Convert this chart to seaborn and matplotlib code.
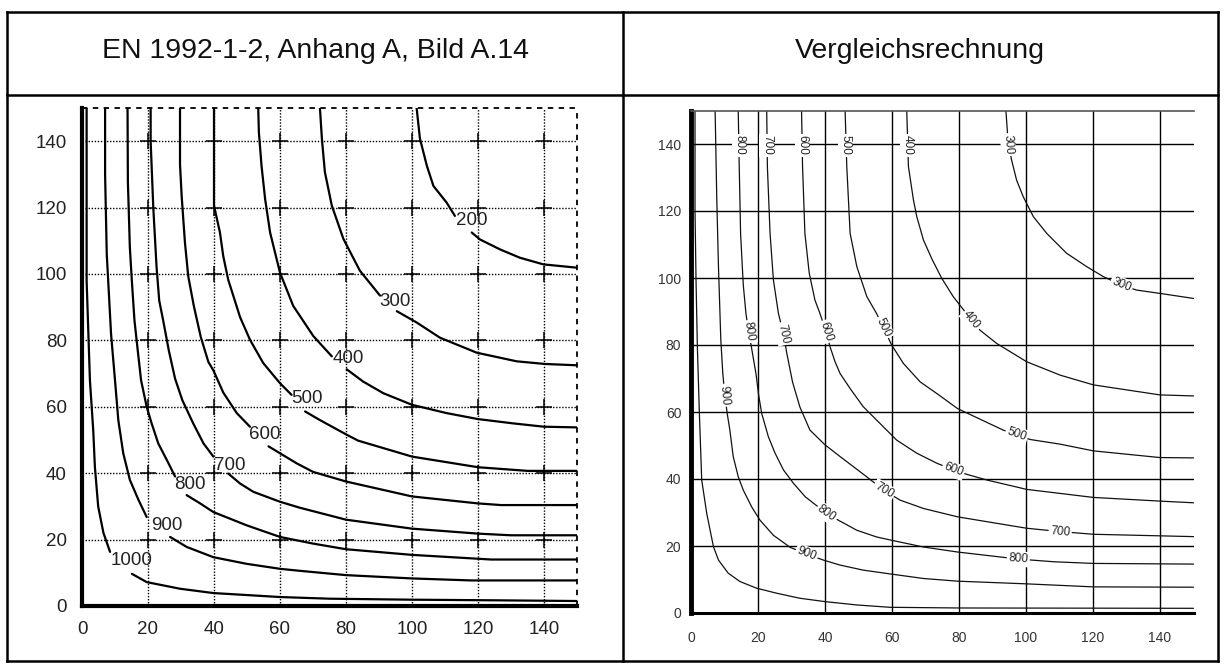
import matplotlib
matplotlib.use("Agg")
import matplotlib.pyplot as plt
import pandas as pd
import seaborn as sns
from matplotlib.lines import Line2D

# ---------------- data: left panel (EN 1992-1-2, Bild A.14) ----------------
# each isotherm is split into the part above and the part right of its label
left_levels = ["200", "300", "400", "500", "600", "700", "800", "900", "1000"]
left_upper = {
    "200": [(101.4, 150), (102.4, 140.8), (104.5, 132.6), (106.5, 126.5), (110.5, 121.5), (113.0, 117.5)],
    "300": [(72.1, 150), (72.7, 140.7), (73.6, 130.7), (75.7, 120.6), (79.2, 110.6), (84.2, 101.0), (90.3, 93.5)],
    "400": [(53.4, 150), (53.6, 142.7), (54.4, 132.6), (55.5, 122.5), (57.0, 112.5), (60.0, 100.4), (64.0, 90.4),
            (70.1, 81.3), (75.7, 75.2)],
    "500": [(40.0, 150), (40.0, 120.6), (41.8, 112.5), (42.8, 105.4), (44.3, 98.3), (47.9, 87.0), (50.9, 80.2),
            (54.9, 73.2), (60.0, 67.1), (63.5, 63.6)],
    "600": [(29.7, 150), (29.7, 133.0), (30.2, 123.5), (31.2, 109.4), (32.2, 99.3), (33.9, 90.3), (36.0, 81.0),
            (38.3, 73.5), (39.8, 71.0), (42.8, 64.3), (46.9, 58.1), (50.9, 54.0)],
    "700": [(20.8, 150), (20.8, 140.0), (21.6, 120.0), (22.6, 102.0), (23.4, 92.0), (24.6, 86.0), (26.3, 77.0),
            (28.2, 68.5), (30.4, 62.0), (33.7, 55.0), (36.8, 49.0), (39.8, 45.0)],
    "800": [(13.8, 150), (13.9, 128.0), (14.5, 108.0), (15.1, 98.0), (15.9, 86.0), (17.0, 76.0), (17.9, 68.0),
            (19.6, 60.0), (21.1, 55.0), (23.1, 49.0), (26.2, 43.0), (28.2, 39.0)],
    "900": [(7.0, 150), (7.0, 130.0), (7.5, 106.0), (8.1, 95.0), (8.8, 82.0), (10.0, 68.0), (11.0, 56.0),
            (12.5, 46.0), (14.5, 38.0), (17.1, 32.0), (19.6, 26.8)],
    "1000": [(1.4, 150), (1.4, 98.0), (2.4, 68.0), (3.4, 53.0), (3.9, 42.0), (4.9, 30.0), (6.5, 22.0), (8.5, 16.3)],
}
left_lower = {
    "200": [(118.1, 112.5), (120.6, 110.4), (126.7, 107.4), (132.7, 104.9), (139.8, 102.9), (150, 101.9)],
    "300": [(95.4, 88.8), (101.4, 85.4), (108.5, 80.8), (119.6, 76.3), (131.7, 73.7), (140.3, 72.9), (150, 72.5)],
    "400": [(80.2, 71.3), (85.2, 67.6), (91.3, 64.1), (100.0, 60.6), (110.5, 58.1), (120.0, 56.3), (130.7, 55.0),
            (140.0, 54.0), (150, 53.8)],
    "500": [(67.6, 58.6), (72.1, 56.0), (80.2, 51.6), (83.7, 49.8), (100.0, 45.0), (120.0, 41.8), (135.0, 40.7),
            (150, 40.7)],
    "600": [(56.5, 48.1), (60.0, 46.0), (65.0, 43.0), (70.0, 40.4), (80.0, 37.5), (100.0, 33.0), (120.0, 30.9),
            (127.0, 30.4), (150, 30.4)],
    "700": [(44.3, 39.9), (47.9, 36.9), (51.9, 34.4), (60.0, 31.4), (66.0, 29.6), (80.0, 26.0), (100.0, 23.3),
            (120.0, 21.8), (130.0, 21.3), (150, 21.3)],
    "800": [(31.7, 33.4), (35.8, 30.9), (39.8, 28.3), (49.9, 24.3), (60.0, 20.8), (70.0, 18.8), (80.0, 17.1),
            (100.0, 15.4), (124.0, 14.0), (150, 14.0)],
    "900": [(26.7, 20.8), (31.7, 17.8), (39.8, 14.7), (49.9, 12.7), (60.0, 11.2), (66.0, 10.6), (80.0, 9.3),
            (100.0, 8.3), (118.0, 7.7), (150, 7.7)],
    "1000": [(15.1, 9.7), (19.6, 7.2), (29.7, 5.2), (39.8, 3.9), (60.0, 2.7), (75.0, 2.2), (100.0, 1.9),
             (127.0, 1.7), (150, 1.5)],
}
left_label_x = [118.1, 94.8, 80.6, 68.1, 55.5, 44.8, 32.7, 25.7, 15.1]
left_label_y = [116.0, 91.8, 74.4, 62.4, 51.8, 42.4, 36.7, 24.3, 13.7]

# ---------------- data: right panel (Vergleichsrechnung) ----------------
right_levels = ["300", "400", "500", "600", "700", "800", "900", "1000"]
right_curves = {
    "300": [(94.0, 150), (94.7, 140.0), (95.7, 135.2), (97.2, 129.2), (99.2, 124.2), (102.2, 118.3), (106.2, 113.3),
            (112.1, 107.4), (118.1, 103.4), (123.1, 100.4), (128.5, 97.9), (133.0, 96.4), (140.0, 95.4), (150, 93.9)],
    "400": [(64.4, 150), (64.9, 133.3), (66.4, 123.3), (67.4, 118.3), (69.4, 111.3), (72.0, 105.5), (74.8, 100.0),
            (78.3, 94.4), (83.8, 87.4), (86.3, 84.4), (91.2, 80.5), (100.2, 75.0), (110.2, 71.0), (120.1, 68.1),
            (140.0, 65.1), (150, 64.8)],
    "500": [(46.0, 150), (46.5, 133.3), (47.5, 113.3), (49.5, 103.4), (52.5, 94.4), (55.4, 89.4), (57.4, 85.2),
            (59.9, 80.0), (63.4, 74.5), (68.4, 69.0), (73.4, 65.5), (79.6, 61.0), (93.2, 54.6), (97.2, 53.3),
            (101.2, 51.8), (110.2, 50.4), (120.1, 48.4), (140.0, 46.4), (150, 46.3)],
    "600": [(33.0, 150), (33.3, 133.3), (34.0, 113.3), (35.3, 101.4), (37.0, 93.4), (38.5, 89.4), (40.3, 84.0),
            (41.5, 79.5), (43.0, 75.0), (44.5, 71.5), (47.5, 67.0), (51.4, 61.6), (56.4, 56.6), (61.4, 51.6),
            (67.4, 47.7), (73.4, 44.7), (78.3, 42.7), (82.3, 41.4), (88.3, 39.7), (100.2, 36.9), (120.1, 34.5),
            (140.0, 33.4), (150, 32.9)],
    "700": [(22.6, 150), (22.8, 133.3), (23.6, 113.3), (24.6, 99.4), (26.1, 89.4), (27.6, 83.4), (28.6, 77.5),
            (30.3, 69.0), (32.5, 61.5), (35.5, 54.6), (40.0, 50.2), (44.5, 46.7), (52.4, 40.7), (57.6, 36.6),
            (62.4, 33.7), (69.4, 31.2), (79.6, 28.7), (100.2, 25.3), (110.2, 24.3), (120.1, 23.5), (150, 22.8)],
    "800": [(14.1, 150), (14.4, 133.3), (14.8, 113.3), (15.6, 98.0), (16.4, 89.4), (17.2, 84.0), (18.1, 79.0),
            (19.4, 71.4), (20.2, 65.0), (21.1, 59.6), (23.1, 52.6), (25.1, 47.7), (27.6, 42.7), (30.6, 38.7),
            (34.1, 34.7), (40.5, 29.7), (44.0, 27.7), (49.5, 24.7), (55.4, 22.7), (59.9, 21.7), (69.4, 19.7),
            (79.6, 18.2), (97.7, 16.1), (108.2, 15.3), (120.1, 14.8), (150, 14.6)],
    "900": [(7.2, 150), (7.7, 123.3), (8.2, 103.4), (8.9, 81.5), (9.5, 71.4), (10.1, 65.0), (10.8, 59.6),
            (11.6, 54.6), (12.6, 46.7), (14.1, 40.7), (15.6, 36.7), (18.1, 31.7), (20.6, 27.7), (24.6, 23.2),
            (29.6, 19.6), (34.5, 17.6), (39.5, 15.8), (44.5, 14.3), (51.4, 12.8), (59.9, 11.6), (69.4, 10.3),
            (79.6, 9.5), (100.2, 8.7), (120.1, 7.8), (150, 7.7)],
    "1000": [(1.2, 150), (1.2, 120.0), (1.5, 99.4), (1.9, 79.5), (2.5, 59.6), (3.2, 39.7), (4.7, 29.7),
             (6.7, 19.8), (8.2, 15.8), (11.1, 11.9), (14.6, 9.4), (19.6, 7.4), (25.6, 5.9), (32.5, 4.4),
             (40.0, 3.4), (49.5, 2.4), (59.4, 1.7), (80.0, 1.5), (150, 1.4)],
}
right_label_text = ["800", "700", "600", "500", "400", "300",
                    "800", "700", "600", "500", "400", "300", "900",
                    "900", "800", "700", "600", "500", "800", "700"]
right_label_x = [14.4, 22.7, 33.2, 46.2, 64.6, 94.7,
                 17.2, 27.6, 40.3, 57.4, 83.8, 128.5, 10.1,
                 34.5, 40.5, 57.6, 78.3, 97.2, 97.7, 110.2]
right_label_y = [139.6, 139.6, 139.6, 139.6, 139.6, 139.8,
                 84.0, 83.4, 84.0, 85.2, 87.4, 97.9, 65.0,
                 17.6, 29.7, 36.6, 42.7, 53.3, 16.1, 24.3]
right_label_rot = [-90, -90, -90, -90, -90, -86,
                   -81, -78, -73, -64, -51, -22, -85,
                   -21, -35, -31, -20, -19, -4, -5]

ticks = [0, 20, 40, 60, 80, 100, 120, 140]
minor_ticks = [10, 30, 50, 70, 90, 110, 130]

header_left = "EN 1992-1-2, Anhang A, Bild A.14"
header_right = "Vergleichsrechnung"


def segments_frame(seg_dict):
    rows = []
    for name, pts in seg_dict.items():
        for x, y in pts:
            rows.append({"x": x, "y": y, "seg": name})
    return pd.DataFrame(rows)


# ---------------- figure ----------------
sns.set_theme(style="white")
plt.rcParams['font.family'] = ['Liberation Sans', 'DejaVu Sans']

W, H = 1226, 666
fig = plt.figure(figsize=(W / 100, H / 100), dpi=100)
fig.patch.set_facecolor("white")


def fx(px):
    return px / W


def fy(py):
    return 1 - py / H


# table lines
for (x0, y0, x1, y1) in [(7, 12, 1218, 12), (7, 95, 1218, 95), (7, 661, 1218, 661),
                         (7, 12, 7, 661), (623, 12, 623, 661), (1218, 12, 1218, 661)]:
    fig.add_artist(Line2D([fx(x0), fx(x1)], [fy(y0), fy(y1)], color="black", lw=1.8,
                          solid_capstyle="projecting"))

fig.text(fx(315), fy(51), header_left, ha="center", va="center", fontsize=20.5, color="#111")
fig.text(fx(920), fy(51), header_right, ha="center", va="center", fontsize=20.5, color="#111")

# ---------- left panel ----------
axL = fig.add_axes([fx(82), fy(606), (577 - 82) / W, (606 - 108) / H])
axL.set_xlim(0, 150)
axL.set_ylim(0, 150)
axL.set_xticks(ticks)
axL.set_yticks(ticks)
axL.grid(True, color="black", lw=1.0, linestyle=(0, (1, 1.2)))
axL.set_axisbelow(True)
for s in ["top", "right"]:
    axL.spines[s].set_visible(False)
axL.spines["left"].set_linewidth(3)
axL.spines["bottom"].set_linewidth(3)
axL.spines["left"].set_color("black")
axL.spines["bottom"].set_color("black")
axL.axhline(150, color="black", lw=1.3, linestyle=(0, (3, 3)), clip_on=False)
axL.axvline(150, color="black", lw=1.3, linestyle=(0, (3, 3)), clip_on=False)
# short solid crosses at grid intersections
gx, gy = [], []
for a in ticks[1:]:
    for b in ticks[1:]:
        gx.append(a)
        gy.append(b)
axL.plot(gx, gy, linestyle="none", marker="+", markersize=12, markeredgewidth=1.1, color="black", zorder=1)

dfL = pd.concat([segments_frame({k + "a": v for k, v in left_upper.items()}),
                 segments_frame({k + "b": v for k, v in left_lower.items()})])
sns.lineplot(data=dfL, x="x", y="y", units="seg", estimator=None, sort=False,
             color="black", lw=1.6, ax=axL, legend=False)
for t, x, y in zip(left_levels, left_label_x, left_label_y):
    axL.text(x, y, t, ha="center", va="center", fontsize=13.5, color="#222", zorder=6)

axL.tick_params(axis="both", direction="out", length=3, width=1.2, colors="black",
                labelsize=13.5, labelcolor="#222")
axL.tick_params(axis="x", pad=8)
axL.tick_params(axis="y", pad=8)
axL.set_xlabel("")
axL.set_ylabel("")

# ---------- right panel ----------
axR = fig.add_axes([fx(691), fy(613), (1193.5 - 691) / W, (613 - 110.5) / H])
axR.set_xlim(0, 150)
axR.set_ylim(0, 150)
axR.set_xticks(ticks)
axR.set_yticks(ticks)
axR.set_xticks(minor_ticks, minor=True)
axR.set_yticks(minor_ticks, minor=True)
axR.grid(True, which="major", color="black", lw=1.0)
axR.set_axisbelow(True)
axR.spines["right"].set_visible(False)
axR.spines["top"].set_color("#555")
axR.spines["top"].set_linewidth(1.2)
axR.spines["left"].set_linewidth(3.5)
axR.spines["bottom"].set_linewidth(2.2)
axR.spines["left"].set_color("black")
axR.spines["bottom"].set_color("black")
axR.tick_params(which="major", direction="in", length=0, labelsize=10, labelcolor="#333", pad=7)
axR.tick_params(axis="x", which="major", pad=13)
axR.tick_params(which="minor", direction="in", length=4, width=1.6, color="black")
axR.tick_params(which="minor", top=False, right=False)

dfR = segments_frame(right_curves)
sns.lineplot(data=dfR, x="x", y="y", units="seg", estimator=None, sort=False,
             color="#111", lw=0.9, ax=axR, legend=False)
for t, x, y, r in zip(right_label_text, right_label_x, right_label_y, right_label_rot):
    axR.text(x, y, t, ha="center", va="center", rotation=r, rotation_mode="anchor",
             fontsize=8.5, color="#222", zorder=6,
             bbox=dict(facecolor="white", edgecolor="none", pad=1.2))
axR.set_xlabel("")
axR.set_ylabel("")

fig.savefig("out.png", dpi=100)
